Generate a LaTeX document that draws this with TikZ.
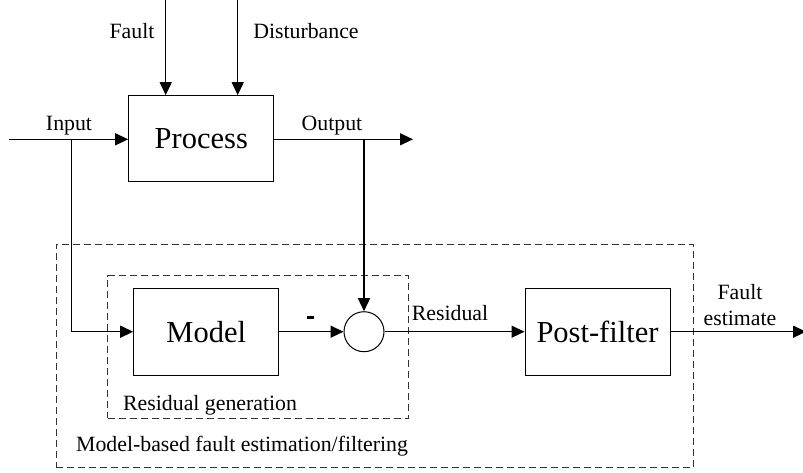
\documentclass[tikz,border=0pt]{standalone}
\usepackage{fontspec}
\setmainfont{Liberation Serif}
\usetikzlibrary{arrows.meta}
\begin{document}
\begin{tikzpicture}[x=1pt,y=-1pt,
  lbl/.style={inner sep=0pt,font=\fontsize{21.8}{26}\selectfont},
  blk/.style={draw,line width=1pt,inner sep=0pt,font=\fontsize{30.5}{36}\selectfont},
  grp/.style={draw=black!80,line width=0.9pt,dash pattern=on 7pt off 4pt,inner sep=0pt},
  sig/.style={line width=1.4pt,-{Triangle[length=13pt,width=12pt]}},
  wire/.style={line width=1.4pt}]
\useasboundingbox (0,0) rectangle (803,472);
% groups
\node[grp,minimum width=637.3pt,minimum height=223.4pt] (outer) at (374.65,356) {};
\node[grp,minimum width=300.6pt,minimum height=142.6pt] (inner) at (258,347) {};
% blocks
\node[blk,minimum width=145.3pt,minimum height=86.3pt] (proc) at (201.3,138.8) {Process};
\node[blk,minimum width=145pt,minimum height=86.7pt] (model) at (206.2,331.7) {Model};
\node[blk,minimum width=145pt,minimum height=86.7pt] (post) at (597.5,331.7) {Post-filter};
\node[draw,circle,line width=1pt,minimum size=40pt,inner sep=0pt] (sum) at (364,331.7) {};
% coordinates
\coordinate (faultin) at (165.7,0);
\coordinate (distin) at (237.7,0);
\coordinate (inp) at (9,139.3);
\coordinate (inj) at (71.7,139.3);
\coordinate (outj) at (364,139.3);
\coordinate (outend) at (413,139.3);
\coordinate (fe) at (806,331.7);
% connectors
\draw[sig] (faultin) -- (faultin |- proc.north);
\draw[sig] (distin) -- (distin |- proc.north);
\draw[sig] (inp) -- (proc.west |- inp);
\draw[sig] (proc.east |- outend) -- (outend);
\draw[sig] (inj) |- (model.west);
\draw[sig] (outj) -- (sum.north);
\draw[sig] (model.east) -- (sum.west);
\draw[sig] (sum.east) -- (post.west);
\draw[sig] (post.east) -- (fe);
% labels
\node[lbl,anchor=base] (lfault) at (132,38.3) {Fault};
\node[lbl,anchor=base] (ldist) at (306,38.3) {Disturbance};
\node[lbl,anchor=base] (linput) at (69,130) {Input};
\node[lbl,anchor=base] (loutput) at (332,130) {Output};
\node[draw=none,fill=black,minimum width=7pt,minimum height=2.6pt,inner sep=0pt] (lminus) at (310.7,317.5) {};
\node[lbl,anchor=base] (lres) at (450,320.7) {Residual};
\node[lbl,anchor=base] (lfe1) at (740,299.3) {Fault};
\node[lbl,anchor=base] (lfe2) at (740,325) {estimate};
\node[lbl,anchor=base west] (lrg) at (123,410) {Residual generation};
\node[lbl,anchor=base west] (lmb) at (76,451.7) {Model-based fault estimation/filtering};
\end{tikzpicture}
\end{document}
